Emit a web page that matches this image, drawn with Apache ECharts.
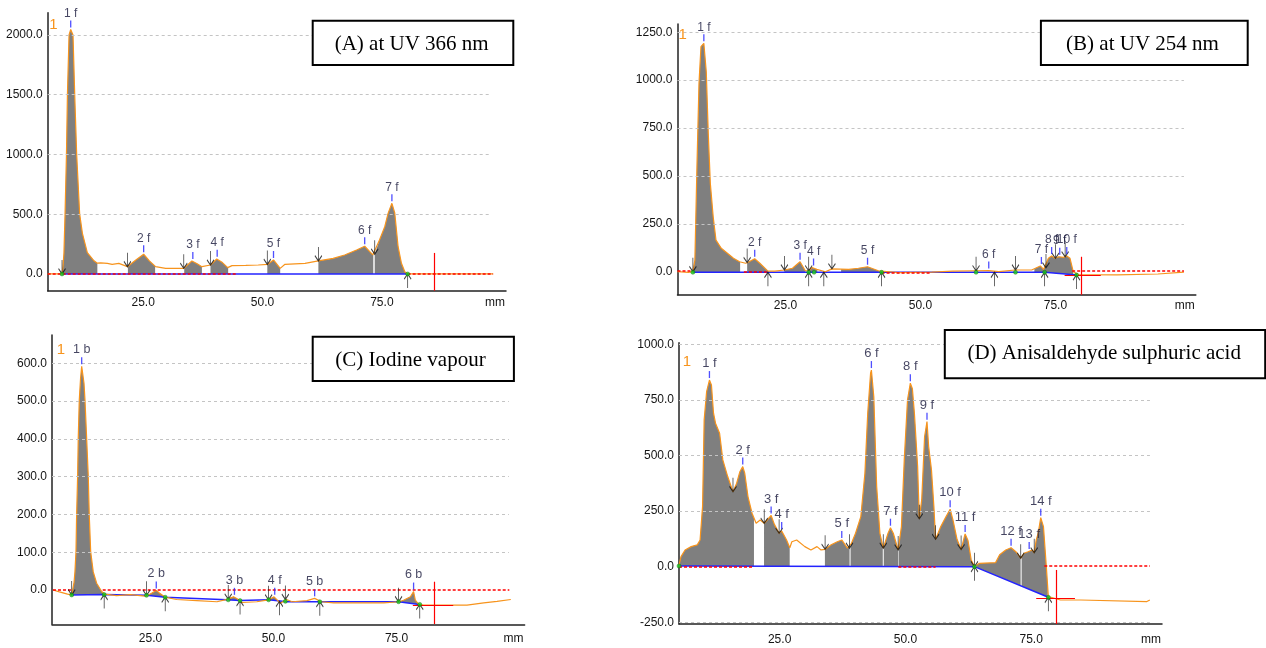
<!DOCTYPE html>
<html><head><meta charset="utf-8">
<script src="https://cdn.jsdelivr.net/npm/echarts@6.0.0/dist/echarts.min.js"></script>
<style>html,body{margin:0;padding:0;background:#fff}#c{width:1266px;height:648px}</style>
</head><body><div id="c"></div>
<script>
// ---------------- DATA ----------------
const xTickValues = [25, 50, 75];

// Panel A : UV 366 nm
const aTitle = '(A) at UV 366 nm';
const aYTicks = [0, 500, 1000, 1500, 2000];
const aCurve = [[5.0,0],[8.0,0],[8.2,60],[8.4,173],[8.63,500],[8.93,1000],[9.13,1500],[9.47,2000],[9.82,2045],[10.3,2000],[10.66,1500],[11.07,1000],[11.7,500],[12.27,340],[13.3,179],[14.7,110],[15.4,90],[16.1,92],[17.5,88],[18.5,81],[19.9,89],[21.7,61],[23.4,115],[25.1,165],[26.3,110],[27.6,61],[29.7,47],[33.5,47],[35.2,109],[36.3,85],[37.3,61],[39.1,75],[40.4,125],[41.6,95],[42.7,53],[43.6,70],[46.5,72],[49.1,75],[51.1,81],[52.3,117],[53.7,47],[54.7,81],[58.9,89],[61.7,109],[64.8,130],[67.2,159],[69.7,200],[71.4,232],[73.1,159],[73.5,165],[74.5,284],[75.6,395],[76.3,507],[77.1,591],[77.7,510],[78.4,228],[79.1,89],[79.8,19],[80.4,0],[98.3,0]];
const aBase = [[8.0,0],[80.4,0]];
const aFill = [[8.0,15.4],[21.8,27.5],[33.6,37.3],[39.1,42.8],[51.0,53.7],[61.7,73.2],[73.5,80.3]];
const aPeaks = [[9.82,2045,'1 f'],[25.1,165,'2 f'],[35.4,109,'3 f'],[40.5,128,'4 f'],[52.3,117,'5 f'],[71.4,232,'6 f'],[77.1,591,'7 f']];
const aDown = [[8.0,0],[21.7,61],[33.5,47],[39.1,75],[51.0,80],[61.7,109],[73.5,165]];
const aUp = [[80.4,0]];
const aDots = [[8.0,0],[80.4,0]];
const aRed = [[[5,0],[44.4,0]],[[80.4,0],[98.3,0]]];
const aCross = [[[85.9,176],[85.9,-140]]];

// Panel B : UV 254 nm
const bTitle = '(B) at UV 254 nm';
const bYTicks = [0, 250, 500, 750, 1000, 1250];
const bCurve = [[5.0,0],[7.0,-3],[7.85,0],[8.22,61],[8.60,548],[8.98,983],[9.35,1175],[9.88,1192],[10.33,1044],[10.70,722],[11.08,461],[11.61,287],[12.13,165],[13.11,122],[14.24,96],[15.37,70],[16.49,52],[17.62,44],[18.0,48],[19.3,68],[20.25,44],[21.75,3],[23.0,3],[24.8,9],[26.3,18],[27.7,52],[28.67,5],[29.3,5],[29.9,22],[30.8,12],[32.4,0],[33.6,15],[36.7,12],[38.5,18],[40.2,26],[42.2,5],[45.9,-5],[52.1,-2],[56.0,3],[60.1,5],[62.65,6],[64.5,0],[67.5,9],[70.6,9],[72.2,30],[72.8,12],[73.7,70],[74.3,82],[74.9,70],[75.6,78],[76.5,75],[77.1,82],[77.7,70],[78.3,0],[79.3,-15],[86.4,-17],[86.5,-12],[94.0,-12],[94.1,-5],[98.8,-2]];
const bBase = [[7.85,-3],[73.0,-3],[79.0,-17]];
const bFill = [[7.9,16.6],[17.9,21.75],[24.8,28.7],[29.3,30.9],[35.3,42.4],[71.1,78.3]];
const bPeaks = [[9.88,1192,'1 f'],[19.3,68,'2 f'],[27.7,52,'3 f'],[30.2,22,'4 f'],[40.2,26,'5 f'],[62.65,6,'6 f'],[72.4,30,'7 f'],[74.3,82,'8 f'],[75.8,78,'9 f'],[77.1,82,'10 f']];
const bDown = [[7.85,0],[17.9,48],[24.8,9],[29.3,5],[33.6,15],[60.3,5],[67.6,9],[73.25,20],[75.0,70],[76.8,78]];
const bUp = [[21.75,-3],[29.3,-3],[32.1,-3],[42.8,-3],[63.7,-3],[73.0,-3],[78.9,-17]];
const bDots = [[7.85,-3],[29.3,-3],[30.3,-3],[42.8,-3],[60.3,-3],[67.6,-3],[73.0,-3],[78.9,-17]];
const bRed = [[[5,3],[7.8,3]],[[17.3,0],[21.7,0]],[[42.8,-5],[51.8,-5]],[[78.1,4],[98.8,4]]];
const bCross = [[[79.8,78],[79.8,-120]],[[76.7,-19],[83.4,-19]]];

// Panel C : Iodine vapour
const cTitle = '(C) Iodine vapour';
const cYTicks = [0, 100, 200, 300, 400, 500, 600];
const cCurve = [[5.2,0],[6.5,-5],[8.16,-11],[8.99,-13],[9.46,18],[9.66,48],[9.87,101],[10.0,198],[10.2,300],[10.33,401],[10.54,503],[10.8,560],[11.03,592],[11.5,547],[11.7,503],[12.04,401],[12.37,300],[12.57,198],[12.86,101],[13.38,48],[14.07,18],[15.09,-4],[15.72,-11],[18.1,-15],[20.9,-12],[23.9,-16],[24.32,-15],[25.3,-8],[26.18,-1],[26.8,-8],[28.0,-19],[30.3,-25],[34.4,-28],[38.5,-31],[40.83,-24],[41.2,-20],[41.86,-18],[42.6,-23],[43.6,-33],[46.6,-31],[49.0,-26],[50.1,-18],[51.4,-35],[52.6,-25],[53.8,-31],[56.8,-28],[58.35,-22],[59.7,-31],[62.2,-34],[72.4,-34],[75.5,-31],[76.4,-27],[77.8,-18],[78.45,-4],[78.8,-27],[79.5,-38],[80.5,-40],[89.3,-40],[92.7,-34],[95.4,-30],[98.2,-25]];
const cBase = [[9.0,-13],[15.4,-12],[24.2,-14],[28.0,-19],[40.5,-26],[43.2,-28],[49.0,-26],[52.7,-31],[59.5,-31],[75.4,-31],[79.6,-38]];
const cFill = [[9.0,15.3],[24.3,28.0],[40.8,43.2],[49.1,51.2],[75.5,79.6]];
const cPeaks = [[11.03,592,'1 b'],[26.18,-1,'2 b'],[42.06,-18,'3 b'],[50.24,-18,'4 f'],[58.35,-22,'5 b'],[78.45,-4,'6 b']];
const cDown = [[9.0,-13],[24.2,-14],[40.8,-24],[49.0,-26],[52.4,-25],[75.4,-31]];
const cUp = [[15.6,-12],[28.0,-19],[43.2,-28],[51.2,-30],[59.4,-31],[79.7,-38]];
const cDots = [[9.0,-13],[15.6,-12],[24.2,-14],[28.0,-19],[40.8,-26],[43.2,-28],[49.0,-26],[52.4,-30],[59.4,-31],[75.4,-31],[79.7,-38]];
const cRed = [[[5.2,0],[9.0,0]],[[15.3,0],[97.9,0]]];
const cCross = [[[82.6,22],[82.6,-90]],[[78.3,-40],[86.5,-40]]];

// Panel D : Anisaldehyde sulphuric acid
const dTitle = '(D) Anisaldehyde sulphuric acid';
const dYTicks = [-250, 0, 250, 500, 750, 1000];
const dCurve = [[5.0,7],[5.4,45],[6.21,75],[7.42,90],[8.63,98],[9.19,120],[9.68,270],[10.0,660],[10.49,787],[11.05,839],[11.45,817],[11.86,690],[12.26,645],[13.07,600],[13.71,480],[14.68,405],[15.73,337],[16.46,375],[17.1,427],[17.67,450],[18.07,420],[18.71,315],[19.52,240],[20.33,195],[21.13,210],[21.94,195],[23.31,230],[23.96,190],[24.9,150],[25.41,160],[26.38,120],[27.02,85],[27.43,112],[28.39,120],[30.01,90],[31.22,75],[32.43,90],[33.23,75],[34.04,78],[35.25,98],[36.46,112],[37.35,120],[38.48,83],[39.28,105],[40.09,150],[41.14,225],[41.95,420],[42.51,690],[43.08,870],[43.24,884],[43.72,764],[44.29,360],[44.93,150],[45.6,83],[46.55,150],[47.03,175],[47.59,150],[48.56,75],[49.21,180],[49.77,480],[50.42,750],[50.98,825],[51.39,800],[51.79,690],[52.43,450],[52.76,215],[53.24,300],[53.81,584],[54.29,652],[54.62,540],[55.18,435],[55.66,270],[56.0,123],[57.03,180],[58.08,225],[58.89,258],[59.45,210],[60.26,123],[61.07,77],[61.87,147],[62.44,117],[63.08,30],[63.73,0],[64.7,15],[67.92,18],[68.73,53],[69.94,75],[71.0,85],[71.96,67],[72.92,38],[73.57,60],[74.38,67],[75.18,75],[75.6,62],[76.0,120],[76.39,150],[76.9,220],[77.44,180],[78.01,0],[78.41,-135],[80.83,-150],[84.86,-150],[84.9,-157],[98.0,-157],[98.58,-150]];
const dBase = [[5.0,3],[63.73,0],[78.41,-138]];
const dFill = [[5.0,19.9],[21.9,27.0],[34.0,38.9],[39.1,45.5],[45.7,48.6],[48.7,63.7],[64.2,72.9],[73.1,78.3]];
const dPeaks = [[11.05,839,'1 f'],[17.67,450,'2 f'],[23.31,230,'3 f'],[25.41,160,'4 f'],[37.35,120,'5 f'],[43.24,884,'6 f'],[47.03,175,'7 f'],[50.98,825,'8 f'],[54.29,652,'9 f'],[58.89,258,'10 f'],[61.87,147,'11 f'],[71.0,85,'12 f'],[74.6,70,'13 f'],[76.9,220,'14 f']];
const dDown = [[15.73,337],[21.94,195],[24.9,150],[34.04,78],[38.88,83],[45.6,83],[48.56,75],[52.76,215],[56.0,123],[61.07,77],[63.73,0],[72.92,38],[75.6,62]];
const dUp = [[63.73,0],[78.41,-138]];
const dDots = [[5.0,3],[63.73,0],[78.41,-138]];
const dRed = [[[5.0,0],[19.9,0]],[[48.6,-2],[56.0,-2]],[[77.6,2],[98.6,2]]];
const dCross = [[[80.0,-15],[80.0,-258]],[[76.0,-142],[83.7,-142]]];

// ---------------- LAYOUT ----------------
const FONT = "'Liberation Sans',Arial,sans-serif";
const panels = [
  {title:aTitle, curve:aCurve, base:aBase, fill:aFill, peaks:aPeaks, down:aDown, up:aUp, dots:aDots, red:aRed, cross:aCross, yTicks:aYTicks,
   grid:{left:47.7, top:12.7, width:458.3, height:278}, yMin:-140, yMax:2186, gridEnd:97.9, xMargin:6, labelSize:12,
   box:{x:312.7, y:20.7, w:200.6, h:44.3}, textPos:[411.7, 44], onePos:[53.3, 25]},
  {title:bTitle, curve:bCurve, base:bBase, fill:bFill, peaks:bPeaks, down:bDown, up:bUp, dots:bDots, red:bRed, cross:bCross, yTicks:bYTicks,
   grid:{left:677.5, top:24, width:518.3, height:270.7}, yMin:-120, yMax:1293, gridEnd:98.8, xMargin:5, labelSize:12,
   box:{x:1040.9, y:20.7, w:206.8, h:44.3}, textPos:[1142.5, 44], onePos:[682.7, 35]},
  {title:cTitle, curve:cCurve, base:cBase, fill:cFill, peaks:cPeaks, down:cDown, up:cUp, dots:cDots, red:cRed, cross:cCross, yTicks:cYTicks,
   grid:{left:52, top:335, width:472.6, height:289.3}, yMin:-90.7, yMax:675, gridEnd:97.8, xMargin:8, labelSize:12.5,
   box:{x:312.7, y:336.7, w:201.2, h:44.3}, textPos:[410.4, 360], onePos:[60.9, 350]},
  {title:dTitle, curve:dCurve, base:dBase, fill:dFill, peaks:dPeaks, down:dDown, up:dUp, dots:dDots, red:dRed, cross:dCross, yTicks:dYTicks,
   grid:{left:679, top:342.7, width:483, height:281.3}, yMin:-258, yMax:1007, gridEnd:98.6, xMargin:10, labelSize:13,
   box:{x:944.8, y:330, w:320.4, h:48.3}, textPos:[1104.2, 353.5], onePos:[686.8, 361.7]}
];

const X_MIN = 5, X_MAX = 101;
const ORANGE = '#f7941d', GRAY = '#7f7f7f', BLUE = '#2323ff', RED = '#ff0000', INK = '#141414';

function interp(pts, x) {
  if (x <= pts[0][0]) return pts[0][1];
  for (let i = 1; i < pts.length; i++) {
    if (x <= pts[i][0]) {
      const x0 = pts[i-1][0], y0 = pts[i-1][1], x1 = pts[i][0], y1 = pts[i][1];
      if (x1 === x0) return y1;
      return y0 + (y1 - y0) * (x - x0) / (x1 - x0);
    }
  }
  return pts[pts.length-1][1];
}

const grids = [], xAxes = [], yAxes = [], series = [], graphic = [];
const fmt1 = v => Number(v).toFixed(1);
const downArrow = 'path://M4,0L4,16M0,10L4,16L8,10';
const upArrow = 'path://M4,16L4,0M0,6L4,0L8,6';

panels.forEach((p, i) => {
  grids.push(Object.assign({containLabel:false}, p.grid));
  xAxes.push({
    type:'value', gridIndex:i, min:X_MIN, max:X_MAX,
    axisLine:{show:true, onZero:false, lineStyle:{color:'#222', width:1.5}},
    axisTick:{show:false}, splitLine:{show:false},
    axisLabel:{customValues:xTickValues, formatter:fmt1, color:INK, fontSize:12, fontFamily:FONT, margin:p.xMargin},
    name:'mm', nameLocation:'end', nameGap:-21,
    nameTextStyle:{color:INK, fontSize:12, fontFamily:FONT, align:'left', verticalAlign:'top', padding:[p.xMargin,0,0,0]}
  });
  yAxes.push({
    type:'value', gridIndex:i, min:p.yMin, max:p.yMax,
    axisLine:{show:true, onZero:false, lineStyle:{color:'#222', width:1.5}},
    axisTick:{show:false}, splitLine:{show:false},
    axisLabel:{customValues:p.yTicks, formatter:fmt1, color:INK, fontSize:12, fontFamily:FONT, margin:5}
  });
  // gridlines
  series.push({
    type:'line', xAxisIndex:i, yAxisIndex:i, data:[[X_MIN, p.yMin]], showSymbol:false, lineStyle:{opacity:0}, silent:true, z:1,
    markLine:{silent:true, symbol:['none','none'], label:{show:false}, emphasis:{disabled:true}, animation:false,
      lineStyle:{color:'#c4c4c4', type:[3,3], width:1},
      data:p.yTicks.filter(v => v !== 0).map(v => [{coord:[X_MIN, v]}, {coord:[p.gridEnd, v]}])}
  });
  // gray fill between curve and baseline
  const curve = p.curve, base = p.base;
  series.push({
    type:'custom', xAxisIndex:i, yAxisIndex:i, silent:true, z:2,
    data:p.fill.map(s => [s[0], s[1], 0]),
    encode:{x:[0,1], y:2},
    renderItem:function(params, api) {
      const xs = api.value(0), xe = api.value(1);
      const pts = [];
      pts.push(api.coord([xs, interp(base, xs)]));
      pts.push(api.coord([xs, interp(curve, xs)]));
      curve.forEach(c => { if (c[0] > xs && c[0] < xe) pts.push(api.coord(c)); });
      pts.push(api.coord([xe, interp(curve, xe)]));
      pts.push(api.coord([xe, interp(base, xe)]));
      base.slice().reverse().forEach(c => { if (c[0] > xs && c[0] < xe) pts.push(api.coord(c)); });
      return {type:'polygon', shape:{points:pts}, style:{fill:GRAY}};
    }
  });
  // baseline
  series.push({type:'line', xAxisIndex:i, yAxisIndex:i, data:base, showSymbol:false, silent:true, z:3,
    lineStyle:{color:BLUE, width:1.5}});
  // red dashed zero + crosshair
  const redData = p.red.map(seg => [{coord:seg[0], lineStyle:{color:RED, type:[3,2], width:1.5}}, {coord:seg[1]}])
    .concat(p.cross.map(seg => [{coord:seg[0], lineStyle:{color:RED, type:'solid', width:1.2}}, {coord:seg[1]}]));
  series.push({
    type:'line', xAxisIndex:i, yAxisIndex:i, data:[[X_MIN, p.yMin]], showSymbol:false, lineStyle:{opacity:0}, silent:true, z:3,
    markLine:{silent:true, symbol:['none','none'], label:{show:false}, emphasis:{disabled:true}, animation:false, data:redData}
  });
  // densitogram curve
  series.push({type:'line', xAxisIndex:i, yAxisIndex:i, data:curve, showSymbol:false, silent:true, z:4,
    lineStyle:{color:ORANGE, width:1.2}});
  // arrows
  series.push({type:'scatter', xAxisIndex:i, yAxisIndex:i, data:p.down, symbol:downArrow, symbolSize:[7,14], symbolOffset:[0,-7],
    itemStyle:{color:'rgba(0,0,0,0)', borderColor:'#111', borderWidth:1.1}, silent:true, z:5});
  series.push({type:'scatter', xAxisIndex:i, yAxisIndex:i, data:p.up, symbol:upArrow, symbolSize:[7,14], symbolOffset:[0,7],
    itemStyle:{color:'rgba(0,0,0,0)', borderColor:'#111', borderWidth:1.1}, silent:true, z:5});
  series.push({type:'scatter', xAxisIndex:i, yAxisIndex:i, data:p.dots, symbol:'circle', symbolSize:4,
    itemStyle:{color:'#19d219', borderColor:'#0a600a', borderWidth:0.5}, silent:true, z:6});
  // peak labels
  series.push({type:'scatter', xAxisIndex:i, yAxisIndex:i, data:p.peaks, symbol:'rect', symbolSize:[1.3,7], symbolOffset:[0,-5.5],
    itemStyle:{color:BLUE}, silent:true, z:7,
    label:{show:true, position:'top', distance:1, formatter:q => q.value[2], color:'#16163a', fontSize:p.labelSize, fontFamily:FONT}});
  // title box
  graphic.push({type:'rect', shape:{x:p.box.x, y:p.box.y, width:p.box.w, height:p.box.h}, style:{fill:'#fff', stroke:'#000', lineWidth:2}, z:100});
  graphic.push({type:'text', x:p.textPos[0], y:p.textPos[1], style:{text:p.title, font:'21px "Liberation Serif", "Times New Roman", serif', fill:'#000', textAlign:'center', textVerticalAlign:'middle'}, z:101});
  graphic.push({type:'text', x:p.onePos[0], y:p.onePos[1], style:{text:'1', font:'15px ' + FONT, fill:ORANGE, textAlign:'center', textVerticalAlign:'middle'}, z:101});
});

const chart = echarts.init(document.getElementById('c'), null, {renderer:'canvas'});
chart.setOption({
  animation:false,
  backgroundColor:'#fff',
  textStyle:{fontFamily:FONT},
  grid:grids, xAxis:xAxes, yAxis:yAxes, series:series, graphic:graphic
});
</script>
</body></html>
